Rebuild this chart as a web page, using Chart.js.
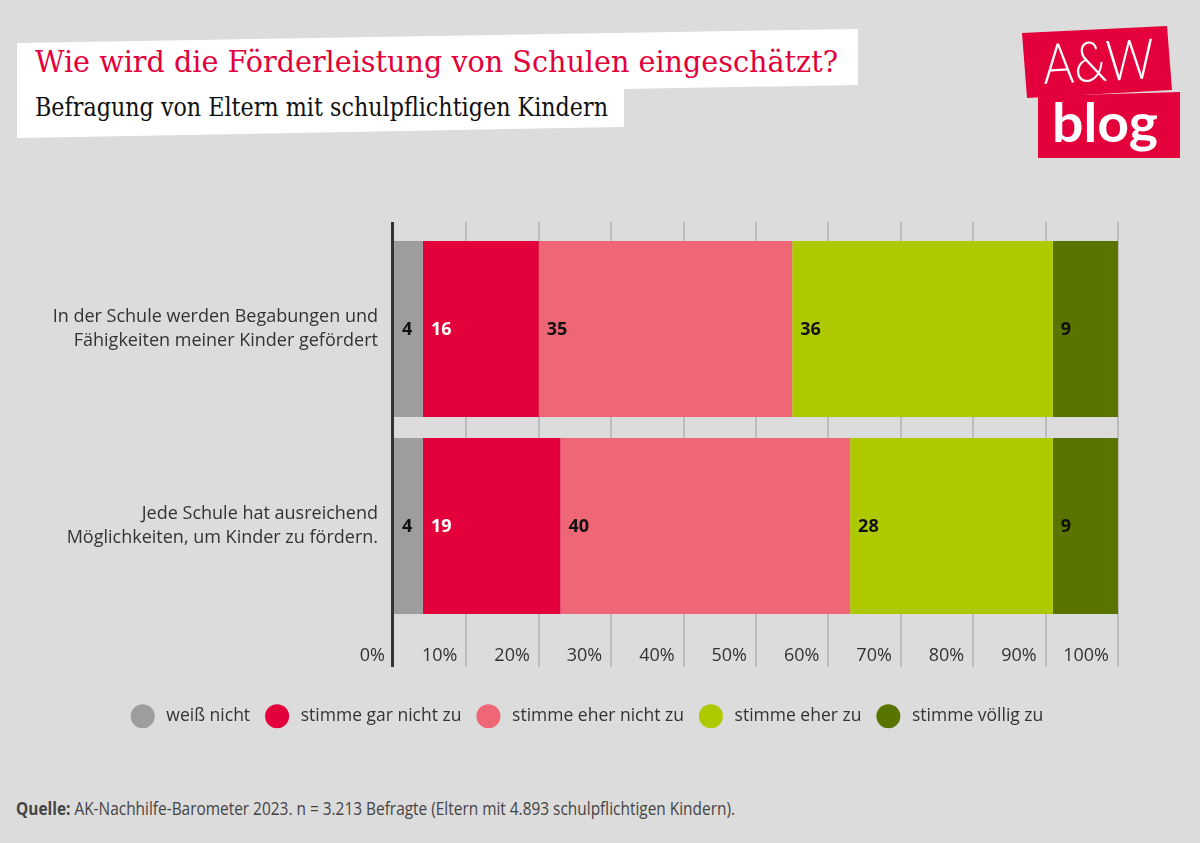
<!DOCTYPE html>
<html><head><meta charset="utf-8">
<script src="https://cdn.jsdelivr.net/npm/chart.js@4/dist/chart.umd.min.js"></script>
<style>
html,body{margin:0;padding:0;background:#dcdcdc;width:1200px;height:843px;overflow:hidden;font-family:"Open Sans",sans-serif}
#wrap{position:relative;width:1200px;height:843px}
#chart{position:absolute;left:0;top:0}
.shape{position:absolute;left:0;top:0;width:1200px;height:843px}
#titlebox{background:#fff;clip-path:polygon(17px 43px,858px 29px,858px 85px,624px 89px,624px 127px,17px 138px)}
#logo1{background:#e4003a;clip-path:polygon(1022px 33px,1167px 26px,1172px 90px,1027px 98px)}
#logo2{background:#e4003a;clip-path:polygon(1038px 96px,1180px 92px,1180px 158px,1038px 158px)}
.fit{position:absolute;white-space:nowrap;transform-origin:0 0;line-height:1}
#title{left:35px;top:46.6px;font-family:"DejaVu Serif",serif;font-size:30.5px;color:#e4003a}
#subtitle{left:35px;top:94.3px;font-family:"DejaVu Serif",serif;font-size:26.6px;color:#111}
#aw{left:1042px;top:35.3px;font-family:Lato,sans-serif;font-weight:300;font-size:56px;color:#fff}
#blog{left:1052px;top:95px;font-family:Lato,sans-serif;font-weight:700;font-size:54px;color:#fff}
#source{left:16px;top:799px;font-family:"Open Sans",sans-serif;font-size:18px;color:#444}
#source b{font-weight:700}
</style></head>
<body><div id="wrap">
<div class="shape" id="titlebox"></div>
<div class="shape" id="logo1"></div>
<div class="shape" id="logo2"></div>
<div class="fit" id="title" data-w="803">Wie wird die Förderleistung von Schulen eingeschätzt?</div>
<div class="fit" id="subtitle" data-w="573">Befragung von Eltern mit schulpflichtigen Kindern</div>
<div class="fit" id="aw" data-w="111" data-rot="-2.5">A&amp;W</div>
<div class="fit" id="blog" data-w="106">blog</div>
<div class="fit" id="source" data-w="719"><b>Quelle:</b> AK-Nachhilfe-Barometer 2023. n = 3.213 Befragte (Eltern mit 4.893 schulpflichtigen Kindern).</div>
<canvas id="chart" width="1200" height="843"></canvas>
</div>
<script>
// ---- data ----
const categories = [
  ["In der Schule werden Begabungen und", "Fähigkeiten meiner Kinder gefördert"],
  ["Jede Schule hat ausreichend", "Möglichkeiten, um Kinder zu fördern."]
];
const seriesNames = ["weiß nicht", "stimme gar nicht zu", "stimme eher nicht zu", "stimme eher zu", "stimme völlig zu"];
const weissNicht = [4, 4];
const garNicht = [16, 19];
const eherNicht = [35, 40];
const eherZu = [36, 28];
const voellig = [9, 9];
const xTickValues = [0, 10, 20, 30, 40, 50, 60, 70, 80, 90, 100];
const xTickLabels = ["0%", "10%", "20%", "30%", "40%", "50%", "60%", "70%", "80%", "90%", "100%"];

// ---- fit text widths ----
document.querySelectorAll('.fit').forEach(el => {
  const w = el.getBoundingClientRect().width;
  const target = +el.dataset.w;
  const rot = el.dataset.rot ? ` rotate(${el.dataset.rot}deg)` : '';
  el.style.transform = `scaleX(${target / w})` + rot;
});

const colors = ["#9d9d9d", "#e4003a", "#ef6676", "#afc900", "#5a7400"];
const seriesData = [weissNicht, garNicht, eherNicht, eherZu, voellig];
const labelColors = ["#111", "#fff", "#111", "#111", "#111"];

const extras = {
  id: 'extras',
  beforeDatasetsDraw(chart) {
    const {ctx, chartArea: a, scales: {x}} = chart;
    ctx.save();
    ctx.strokeStyle = '#bcbcbc';
    ctx.lineWidth = 2;
    xTickValues.slice(1).forEach(v => {
      const px = Math.round(x.getPixelForValue(v));
      ctx.beginPath();
      ctx.moveTo(px, a.top - 8.5);
      ctx.lineTo(px, a.bottom + 42.5);
      ctx.stroke();
    });
    ctx.restore();
  },
  afterDatasetsDraw(chart) {
    const {ctx, chartArea: a, scales: {x}} = chart;
    ctx.save();
    // data labels
    ctx.font = 'bold 18px "Open Sans"';
    ctx.textAlign = 'left';
    ctx.textBaseline = 'middle';
    chart.data.datasets.forEach((ds, i) => {
      const meta = chart.getDatasetMeta(i);
      meta.data.forEach((el, j) => {
        const left = Math.min(el.x, el.base);
        ctx.fillStyle = labelColors[i];
        ctx.fillText(String(ds.data[j]), left + 8, el.y + 1);
      });
    });
    // axis line
    ctx.strokeStyle = '#333';
    ctx.lineWidth = 3;
    ctx.beginPath();
    ctx.moveTo(a.left - 1.5, a.top - 8.5);
    ctx.lineTo(a.left - 1.5, a.bottom + 42.5);
    ctx.stroke();
    // x tick labels
    ctx.font = '18px "Open Sans"';
    ctx.fillStyle = '#333';
    ctx.textAlign = 'right';
    ctx.textBaseline = 'middle';
    xTickValues.forEach((v, i) => {
      ctx.fillText(xTickLabels[i], x.getPixelForValue(v) - 9, a.bottom + 31);
    });
    ctx.restore();
  }
};

new Chart(document.getElementById('chart'), {
  type: 'bar',
  data: {
    labels: categories,
    datasets: seriesNames.map((n, i) => ({
      label: n,
      data: seriesData[i],
      backgroundColor: colors[i],
      borderWidth: 0,
      barPercentage: 1,
      categoryPercentage: 0.893
    }))
  },
  options: {
    indexAxis: 'y',
    responsive: false,
    animation: false,
    layout: {padding: {top: 230.5, left: 30, right: 56, bottom: 108}},
    scales: {
      x: {
        stacked: true, min: 0, max: 100,
        grid: {display: false}, border: {display: false},
        ticks: {display: false},
        afterFit: s => { s.height = 68; }
      },
      y: {
        stacked: true,
        grid: {display: false, drawTicks: false}, border: {display: false},
        ticks: {font: {family: '"Open Sans"', size: 18, lineHeight: 1.35}, color: '#333', padding: 16},
        afterFit: s => { s.width = 364; }
      },
      yRight: {
        type: 'category', position: 'right', labels: ['', ''],
        grid: {display: false, drawTicks: false}, border: {display: false},
        ticks: {display: false},
        afterFit: s => { s.width = 26; }
      }
    },
    plugins: {
      legend: {
        position: 'bottom',
        labels: {
          usePointStyle: true, pointStyle: 'circle', pointStyleWidth: 24, boxHeight: 17,
          font: {family: '"Open Sans"', size: 17.5}, color: '#333', padding: 15,
          generateLabels(chart) {
            const items = Chart.defaults.plugins.legend.labels.generateLabels(chart);
            items.forEach(it => { it.text = '\u2009' + it.text; it.lineWidth = 0; });
            return items;
          }
        }
      },
      tooltip: {enabled: false}
    }
  },
  plugins: [extras]
});
</script>
</body></html>
